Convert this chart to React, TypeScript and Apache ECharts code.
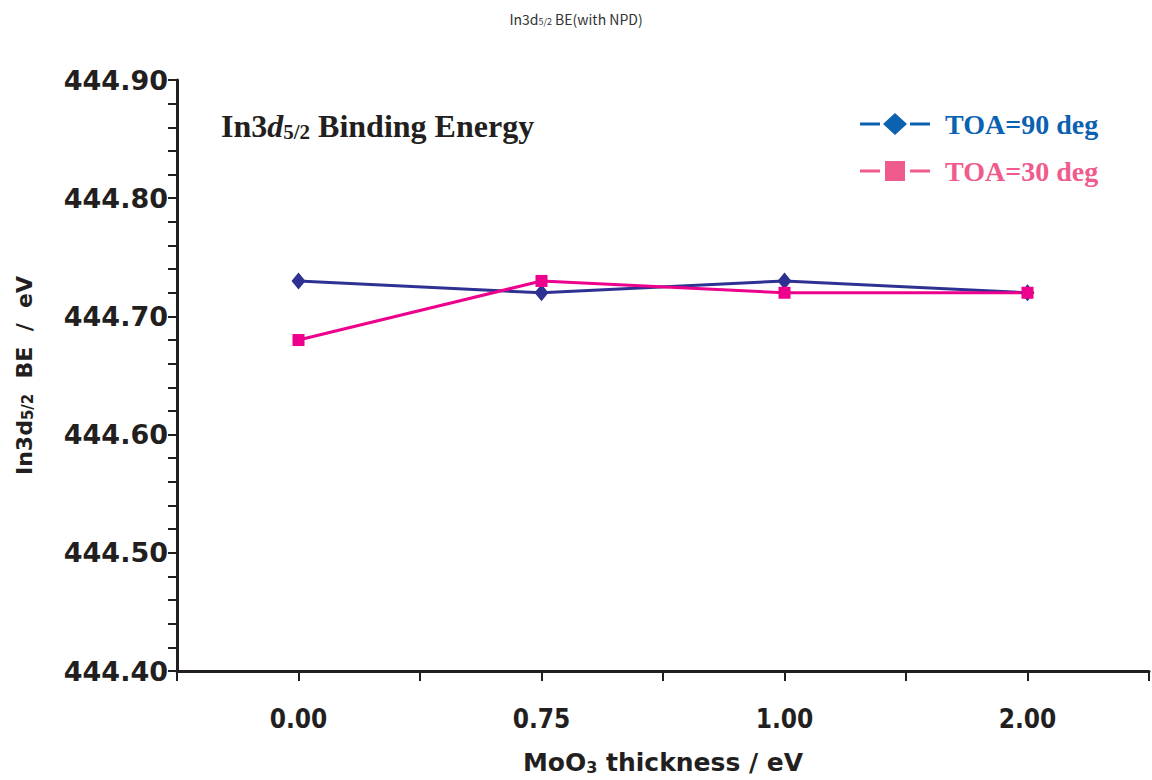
import React, { useEffect, useRef } from "react";
import * as echarts from "echarts";

const categories = ["0.00", "0.75", "1.00", "2.00"];
const toa90 = [444.73, 444.72, 444.73, 444.72];
const toa30 = [444.68, 444.73, 444.72, 444.72];
const seriesNames = ["TOA=90 deg", "TOA=30 deg"];
const yTicks = { min: 444.4, max: 444.9, interval: 0.1 };

const DIAMOND_ICON =
  "path://M0,9.5h20v3H0z M23,11L35,0L47,11L35,22z M50,9.5h20v3H50z";
const SQUARE_ICON =
  "path://M0,9.5h20v3H0z M25,1h20v20H25z M50,9.5h20v3H50z M0,0h0.01v0.01H0z M0,22h0.01v-0.01H0z";

export default function App() {
  const ref = useRef<HTMLDivElement>(null);
  useEffect(() => {
    if (!ref.current) return;
    const chart = echarts.init(ref.current, null, { renderer: "svg" });
    const axisColor = "#231f20";
    const serif = '"Liberation Serif", "Times New Roman", serif';
    const boldSans = '"DejaVu Sans", sans-serif';
    const narrowSans = '"DejaVu Sans Condensed", "DejaVu Sans", sans-serif';
    chart.setOption({
      animation: false,
      backgroundColor: "#ffffff",
      title: [
        {
          text: "{a|In3d}{s|5/2}{a| BE(with NPD)}",
          left: "center",
          top: 6,
          textStyle: {
            rich: {
              a: { fontFamily: '"Noto Sans CJK JP", "Noto Sans", sans-serif', fontWeight: "normal", fontSize: 14, color: "#333" },
              s: { fontFamily: '"Noto Sans CJK JP", "Noto Sans", sans-serif', fontWeight: "normal", fontSize: 9, color: "#333", verticalAlign: "bottom", padding: [6, 0, 0, 0] },
            },
          },
        },
        {
          text: "{a|In3}{i|d}{s|5/2}{a| Binding Energy}",
          left: 216,
          top: 104,
          textStyle: {
            rich: {
              a: { fontFamily: serif, fontWeight: "bold", fontSize: 32, color: "#231f20" },
              i: { fontFamily: serif, fontWeight: "bold", fontStyle: "italic", fontSize: 32, color: "#231f20" },
              s: { fontFamily: serif, fontWeight: "bold", fontSize: 21, color: "#231f20", verticalAlign: "bottom", padding: [12, 0, 0, 0] },
            },
          },
        },
      ],
      legend: {
        orient: "vertical",
        left: 855,
        top: 104,
        itemWidth: 70,
        itemHeight: 22,
        itemGap: 17,
        textStyle: {
          fontFamily: serif,
          fontWeight: "bold",
          fontSize: 28,
          lineHeight: 30,
          padding: [0, 0, 0, 10],
        },
        data: [
          { name: seriesNames[0], icon: DIAMOND_ICON, itemStyle: { color: "#0b62b0" }, textStyle: { color: "#0b62b0" } },
          { name: seriesNames[1], icon: SQUARE_ICON, itemStyle: { color: "#ef5b8c" }, textStyle: { color: "#ef5b8c" } },
        ],
      },
      grid: { left: 177, top: 80, width: 980, height: 592, containLabel: false },
      xAxis: {
        type: "value",
        min: -0.5,
        max: categories.length - 0.5,
        interval: 0.5,
        name: "{a|MoO}{s|3}{a| thickness / eV}",
        nameLocation: "middle",
        nameGap: 79,
        nameTextStyle: {
          rich: {
            a: { fontFamily: boldSans, fontWeight: "bold", fontSize: 25, color: axisColor },
            s: { fontFamily: boldSans, fontWeight: "bold", fontSize: 16, color: axisColor, verticalAlign: "bottom", padding: [8, 0, 0, 0] },
          },
        },
        axisLine: { onZero: false, lineStyle: { color: axisColor, width: 3 } },
        axisTick: { length: 10, lineStyle: { color: axisColor, width: 2 } },
        splitLine: { show: false },
        axisLabel: {
          margin: 35,
          fontFamily: narrowSans,
          fontWeight: "bold",
          fontSize: 26,
          color: axisColor,
          formatter: (v: number) => {
            const i = Math.round(v);
            return Math.abs(v - i) < 1e-6 && i >= 0 && i < categories.length ? categories[i] : "";
          },
        },
      },
      yAxis: {
        type: "value",
        min: yTicks.min,
        max: yTicks.max,
        interval: yTicks.interval,
        name: "{a|In3d}{s|5/2}{a|  BE  /  eV}",
        nameLocation: "middle",
        nameGap: 142,
        nameTextStyle: {
          rich: {
            a: { fontFamily: boldSans, fontWeight: "bold", fontSize: 22, color: axisColor },
            s: { fontFamily: boldSans, fontWeight: "bold", fontSize: 15, color: axisColor, verticalAlign: "bottom", padding: [6, 0, 0, 0] },
          },
        },
        axisLine: { show: true, onZero: false, lineStyle: { color: axisColor, width: 3 } },
        axisTick: { show: true, length: 9, lineStyle: { color: axisColor, width: 2 } },
        minorTick: { show: true, splitNumber: 5, length: 9, lineStyle: { color: axisColor, width: 2 } },
        splitLine: { show: false },
        axisLabel: {
          margin: 9,
          fontFamily: boldSans,
          fontWeight: "bold",
          fontSize: 27,
          color: axisColor,
          formatter: (v: number) => v.toFixed(2),
        },
      },
      series: [
        {
          name: seriesNames[0],
          type: "line",
          data: toa90.map((v, i) => [i, v]),
          symbol: "diamond",
          symbolSize: [14, 17],
          lineStyle: { color: "#2e3192", width: 3 },
          itemStyle: { color: "#2e3192" },
        },
        {
          name: seriesNames[1],
          type: "line",
          data: toa30.map((v, i) => [i, v]),
          symbol: "rect",
          symbolSize: 12,
          lineStyle: { color: "#ec008c", width: 3 },
          itemStyle: { color: "#ec008c" },
        },
      ],
    });
    return () => chart.dispose();
  }, []);
  return (
    <div
      ref={ref}
      style={{ position: "absolute", left: 0, top: 0, width: 1152, height: 780 }}
    />
  );
}
